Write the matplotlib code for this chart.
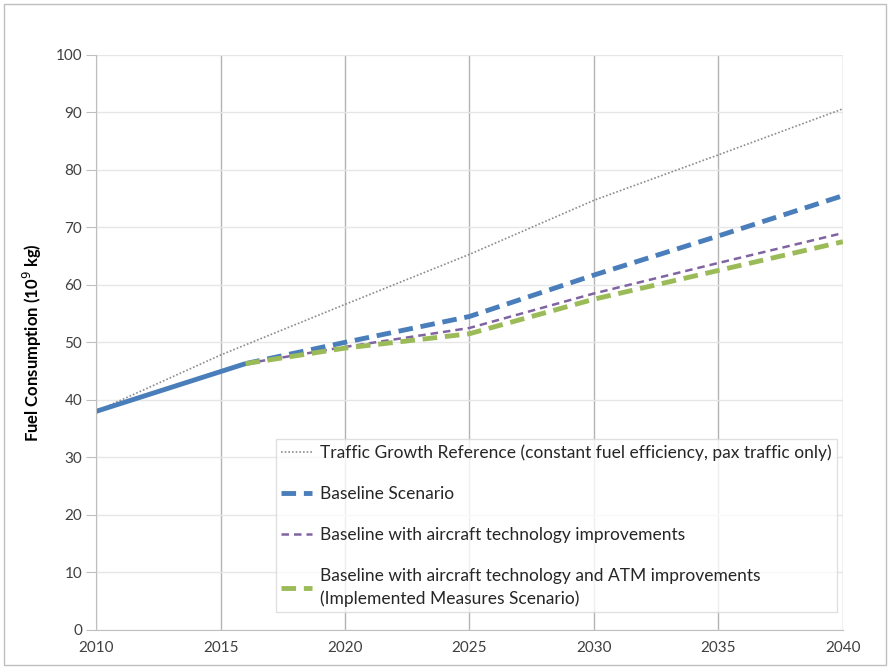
import matplotlib
matplotlib.use("Agg")
from matplotlib import pyplot as plt
from matplotlib.patches import Rectangle

plt.rcParams['font.family'] = ['Lato', 'DejaVu Sans']

# historical
hist_years = [2010, 2016]
hist_vals = [38.0, 46.3]

# traffic growth reference
ref_years = [2010, 2015, 2020, 2025, 2030, 2035, 2040]
ref_vals = [38.0, 47.8, 56.6, 65.3, 74.7, 82.6, 90.6]

# scenarios
scen_years = [2016, 2020, 2025, 2030, 2035, 2040]
baseline = [46.3, 50.0, 54.5, 61.7, 68.5, 75.5]
tech = [46.3, 49.2, 52.5, 58.5, 63.8, 69.0]
tech_atm = [46.3, 49.0, 51.5, 57.5, 62.5, 67.5]

labels = [
    "Traffic Growth Reference (constant fuel efficiency, pax traffic only)",
    "Baseline Scenario",
    "Baseline with aircraft technology improvements",
    "Baseline with aircraft technology and ATM improvements\n(Implemented Measures Scenario)",
]

fig = plt.figure(figsize=(8.9, 6.68), dpi=100)
ax = fig.add_axes([0.108, 0.057, 0.839, 0.861])

fig.patches.append(Rectangle((0.004, 0.004), 0.992, 0.99, transform=fig.transFigure,
                             fill=False, edgecolor='#bfbfbf', linewidth=1))

ax.plot(ref_years, ref_vals, color='#8c8c8c', linestyle=(0, (1, 1.2)), linewidth=1.2,
        label=labels[0])
ax.plot(scen_years, baseline, color='#4a7ebb', linestyle=(0, (3, 1.6)), linewidth=3.5,
        label=labels[1])
ax.plot(scen_years, tech, color='#8064a2', linestyle=(0, (3, 2)), linewidth=1.8,
        label=labels[2])
ax.plot(scen_years, tech_atm, color='#9bbb59', linestyle=(0, (3, 1.6)), linewidth=3.5,
        label=labels[3])
ax.plot(hist_years, hist_vals, color='#4a7ebb', linewidth=3.5, solid_capstyle='butt')

ax.set_xlim(2010, 2040)
ax.set_ylim(0, 100)
ax.set_xticks(range(2010, 2041, 5))
ax.set_yticks(range(0, 101, 10))
ax.grid(axis='x', color='#b3b3b3', linewidth=1)
ax.grid(axis='y', color='#e6e6e6', linewidth=1)
ax.set_axisbelow(True)
for s in ['top', 'right']:
    ax.spines[s].set_visible(False)
for s in ['left', 'bottom']:
    ax.spines[s].set_color('#bfbfbf')
ax.tick_params(axis='y', length=7, color='#bfbfbf', labelsize=11, labelcolor='#404040', pad=3)
ax.tick_params(axis='x', length=0, labelsize=11, labelcolor='#404040', pad=8)

ax.set_ylabel("Fuel Consumption (10$^9$ kg)", fontsize=12, fontweight='bold', labelpad=8)

leg = ax.legend(loc='lower right', bbox_to_anchor=(0.997, 0.025), fontsize=12.5,
                handlelength=1.8, handletextpad=0.45, labelspacing=1.45,
                frameon=True, fancybox=False, borderpad=0.3, borderaxespad=0.2)
leg.get_frame().set_edgecolor('#d9d9d9')
leg.get_frame().set_linewidth(1)
for t in leg.get_texts():
    t.set_color('#262626')
    t.set_linespacing(1.45)

fig.savefig("out.png", dpi=100)
